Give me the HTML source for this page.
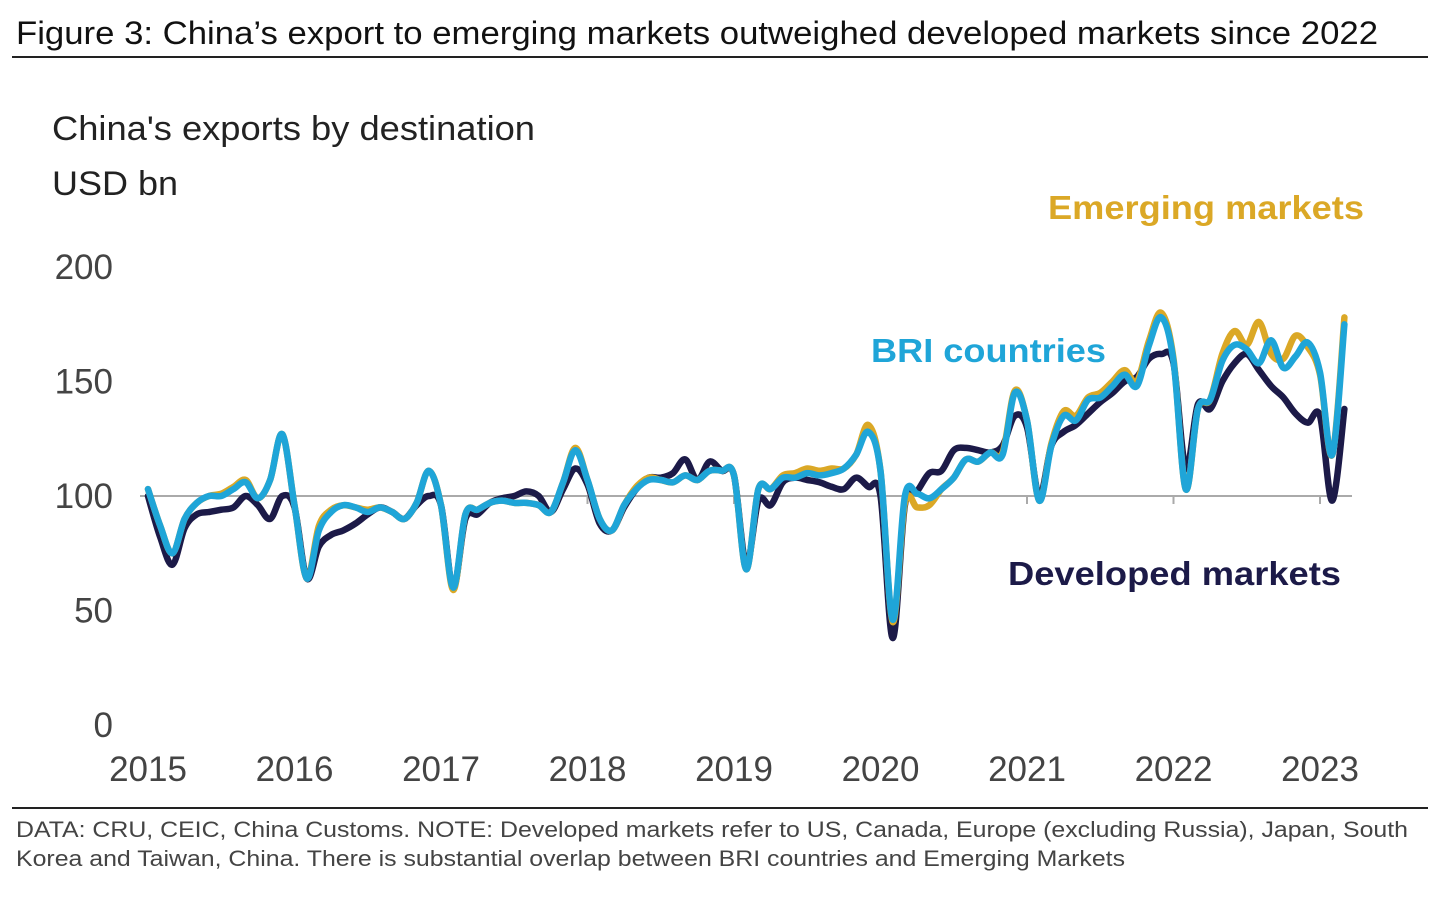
<!DOCTYPE html>
<html><head><meta charset="utf-8"><style>
body{margin:0;background:#fff;width:1450px;height:898px;overflow:hidden;font-family:"Liberation Sans",sans-serif}
</style></head><body>
<svg width="1450" height="898" style="position:absolute;left:0;top:0">
<text x="16" y="44" font-size="32" fill="#111" textLength="1362" lengthAdjust="spacingAndGlyphs">Figure 3: China’s export to emerging markets outweighed developed markets since 2022</text>
<line x1="12" y1="57" x2="1428" y2="57" stroke="#222" stroke-width="2"/>
<text x="52" y="140" font-size="34" fill="#222" textLength="483" lengthAdjust="spacingAndGlyphs">China's exports by destination</text>
<text x="52" y="195" font-size="34" fill="#222" textLength="126" lengthAdjust="spacingAndGlyphs">USD bn</text>
<g id="yticks"></g><g id="xticks"></g><g id="lines"></g>
<text x="1048" y="219" font-size="33" font-weight="bold" fill="#dba826" textLength="316" lengthAdjust="spacingAndGlyphs">Emerging markets</text>
<text x="871" y="362" font-size="33" font-weight="bold" fill="#1fa5d8" textLength="235" lengthAdjust="spacingAndGlyphs">BRI countries</text>
<text x="1008" y="585" font-size="33" font-weight="bold" fill="#1c1a48" textLength="333" lengthAdjust="spacingAndGlyphs">Developed markets</text>
<line x1="12" y1="808" x2="1428" y2="808" stroke="#222" stroke-width="2"/>
<text x="16" y="837" font-size="22" fill="#444" textLength="1392" lengthAdjust="spacingAndGlyphs">DATA: CRU, CEIC, China Customs. NOTE: Developed markets refer to US, Canada, Europe (excluding Russia), Japan, South</text>
<text x="16" y="866" font-size="22" fill="#444" textLength="1109" lengthAdjust="spacingAndGlyphs">Korea and Taiwan, China. There is substantial overlap between BRI countries and Emerging Markets</text>
</svg>
<script>
const years=["2015","2016","2017","2018","2019","2020","2021","2022","2023"];
const yTicks=[0,50,100,150,200];
const bri=[103,87,75,90,97,100,100,103,106,99,107,127,96,64,85,93,96,95,93,95,93,90,97,111,96,60,92,94,97,98,97,97,96,93,106,120,107,90,85,96,103,107,107,106,109,107,111,111,109,68,103,103,108,108,110,109,110,112,118,128,111,46,100,101,99,103,108,116,115,119,118,145,133,98,122,135,133,142,143,148,153,148,166,178,159,103,138,142,159,166,164,158,168,156,161,167,154,118,175];
const emerging=[103,87,75,90,97,100,101,104,107,99,107,127,96,64,87,94,96,95,94,95,93,90,97,111,96,59,92,94,97,98,97,97,96,93,106,121,107,90,85,96,104,108,107,106,109,107,111,111,109,68,103,103,109,110,112,111,112,112,118,131,111,45,97,95,96,103,108,116,115,119,119,146,133,98,123,137,135,143,145,150,155,150,168,180,160,103,138,142,162,172,166,176,162,160,170,165,153,118,178];
const developed=[100,82,70,86,92,93,94,95,100,96,90,100,95,64,78,83,85,88,92,95,93,90,96,100,96,60,90,92,97,99,100,102,100,93,103,112,105,88,85,95,103,108,108,110,116,107,115,111,109,70,98,96,106,108,107,106,104,103,108,104,100,38,96,102,110,111,120,121,120,119,122,135,130,100,122,128,131,136,141,145,150,152,160,162,158,112,140,138,150,158,162,155,148,143,136,132,135,98,138];
const NS="http://www.w3.org/2000/svg";
const x=i=>148+i*146.5/12, y=v=>725-v*2.29;
const yt=document.getElementById('yticks');
yTicks.forEach(v=>{const t=document.createElementNS(NS,'text');


t.setAttribute('x',113);t.setAttribute('y',y(v)+12);t.setAttribute('text-anchor','end');t.setAttribute('font-size','35');t.setAttribute('fill','#444');t.textContent=v;yt.appendChild(t);});
const xt=document.getElementById('xticks');
const base=document.createElementNS(NS,'line');


base.setAttribute('x1',140);base.setAttribute('x2',1352);base.setAttribute('y1',y(100));base.setAttribute('y2',y(100));base.setAttribute('stroke','#aaa');base.setAttribute('stroke-width','2');xt.appendChild(base);
years.forEach((s,k)=>{const px=x(k*12);
const l=document.createElementNS(NS,'line');


l.setAttribute('x1',px);l.setAttribute('x2',px);l.setAttribute('y1',y(100));l.setAttribute('y2',y(100)+8);l.setAttribute('stroke','#aaa');l.setAttribute('stroke-width','2');xt.appendChild(l);
const t=document.createElementNS(NS,'text');


t.setAttribute('x',px);t.setAttribute('y',781);t.setAttribute('text-anchor','middle');t.setAttribute('font-size','35');t.setAttribute('fill','#444');t.textContent=s;xt.appendChild(t);});
function smooth(d){const P=d.map((v,i)=>[x(i),y(v)]);let s='M'+P[0][0].toFixed(1)+','+P[0][1].toFixed(1);
for(let i=0;i<P.length-1;i++){const p0=P[Math.max(i-1,0)],p1=P[i],p2=P[i+1],p3=P[Math.min(i+2,P.length-1)];
const c1=[p1[0]+(p2[0]-p0[0])/6,p1[1]+(p2[1]-p0[1])/6],c2=[p2[0]-(p3[0]-p1[0])/6,p2[1]-(p3[1]-p1[1])/6];
s+=' C'+c1.map(n=>n.toFixed(1))+' '+c2.map(n=>n.toFixed(1))+' '+p2.map(n=>n.toFixed(1));}
return s;}
const lg=document.getElementById('lines');
[[developed,'#1c1a48','line-developed'],[emerging,'#dba826','line-emerging'],[bri,'#1fa5d8','line-bri']].forEach(([d,c,n])=>{
const p=document.createElementNS(NS,'path');


p.setAttribute('d',smooth(d));
p.setAttribute('fill','none');p.setAttribute('stroke',c);p.setAttribute('stroke-width','6.5');p.setAttribute('stroke-linejoin','round');p.setAttribute('stroke-linecap','round');lg.appendChild(p);});
</script>
</body></html>
